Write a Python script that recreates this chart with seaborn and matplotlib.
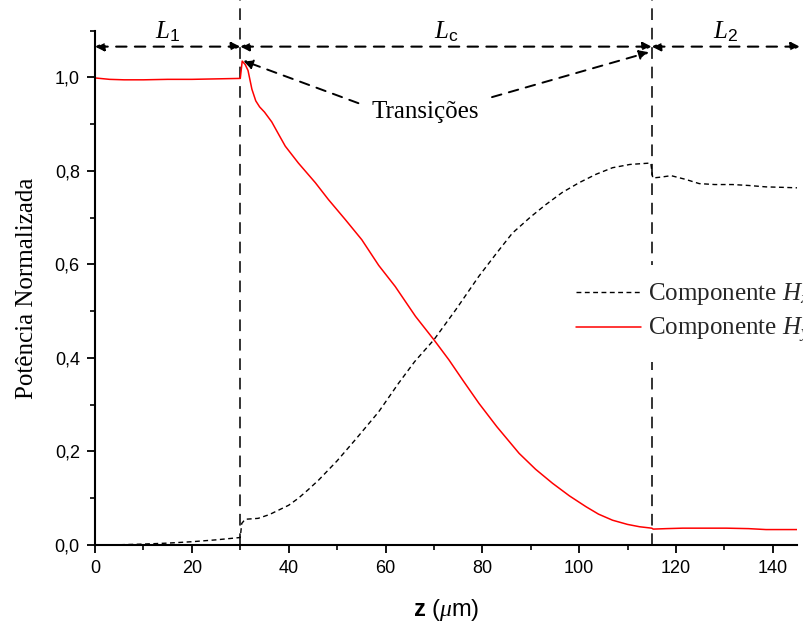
import numpy as np
import pandas as pd
import matplotlib
matplotlib.use("Agg")
import matplotlib.pyplot as plt
from matplotlib.ticker import MultipleLocator
import seaborn as sns

# ---------------- data ----------------
z_hy = [0, 3, 6, 10, 15, 20, 25, 30, 30.4, 31.0, 31.6, 32.4, 33.2, 34.0, 35.0,
        36.5, 38.0, 39.3, 42.0, 45.5, 48.2, 51.7, 55.1, 58.6, 62.0, 66.2, 70.0,
        73.1, 76.0, 79.3, 83.0, 87.6, 91.0, 94.5, 98.0, 101.4, 104.0, 106.9,
        110.0, 112.5, 115.0, 115.3, 118.0, 121.4, 126.0, 130.4, 135.0, 138.6,
        142.0, 145.0]
p_hy = [0.999, 0.996, 0.995, 0.995, 0.996, 0.996, 0.997, 0.998, 1.035, 1.028,
        1.015, 0.975, 0.950, 0.937, 0.926, 0.905, 0.877, 0.853, 0.817, 0.775,
        0.739, 0.696, 0.653, 0.598, 0.553, 0.489, 0.439, 0.396, 0.352, 0.303,
        0.253, 0.196, 0.162, 0.132, 0.105, 0.082, 0.066, 0.053, 0.044, 0.039,
        0.036, 0.034, 0.035, 0.036, 0.036, 0.036, 0.035, 0.033, 0.033, 0.033]

z_hx = [0, 5, 10, 15, 20, 25, 30, 30.3, 31.0, 33.7, 36, 38, 40, 42, 44, 46.2,
        50, 54, 58.6, 62.7, 66, 70, 74.5, 79.3, 83, 86.2, 90, 93.1, 96.5, 100,
        103.5, 106.9, 110.5, 114.8, 115.2, 117, 119, 122, 124.8, 128, 131.7,
        135, 138.6, 142, 145]
p_hx = [0.0, 0.0005, 0.002, 0.004, 0.007, 0.011, 0.016, 0.046, 0.055, 0.057,
        0.065, 0.075, 0.085, 0.100, 0.118, 0.139, 0.180, 0.228, 0.285, 0.346,
        0.392, 0.439, 0.503, 0.575, 0.625, 0.667, 0.702, 0.728, 0.754, 0.775,
        0.793, 0.807, 0.814, 0.817, 0.785, 0.787, 0.790, 0.782, 0.773, 0.771,
        0.771, 0.769, 0.766, 0.765, 0.764]

section_bounds = [0, 30, 115, 145.6]
section_labels = [r"$L_\mathsf{1}$", r"$L_\mathsf{c}$", r"$L_\mathsf{2}$"]
transition_z = [30, 115]

x_ticks = [0, 20, 40, 60, 80, 100, 120, 140]
y_ticks = [0.0, 0.2, 0.4, 0.6, 0.8, 1.0]
y_tick_labels = ["0,0", "0,2", "0,4", "0,6", "0,8", "1,0"]

legend_labels = [r"Componente $H_x$", r"Componente $H_y$"]

# ---------------- style ----------------
sns.set_theme(style="ticks")
plt.rcParams["font.family"] = ["Liberation Sans", "DejaVu Sans"]
plt.rcParams["mathtext.fontset"] = "custom"
plt.rcParams["mathtext.it"] = "Liberation Serif:italic"
plt.rcParams["mathtext.rm"] = "Liberation Serif"
plt.rcParams["mathtext.sf"] = "Liberation Sans"
plt.rcParams["mathtext.bf"] = "Liberation Sans:bold"

serif = ["Liberation Serif", "DejaVu Serif"]

fig = plt.figure(figsize=(8.04, 6.31), dpi=100)
ax = fig.add_axes([0.1182, 0.1363, 0.8731, 0.815])
ax.set_facecolor("white")

df_hx = pd.DataFrame({"z": z_hx, "p": p_hx})
df_hy = pd.DataFrame({"z": z_hy, "p": p_hy})

sns.lineplot(data=df_hx, x="z", y="p", ax=ax, color="black", lw=1.0,
             estimator=None, sort=False, label=legend_labels[0])
ax.lines[-1].set_linestyle((0, (3.5, 2.5)))
sns.lineplot(data=df_hy, x="z", y="p", ax=ax, color="red", lw=1.1,
             estimator=None, sort=False, label=legend_labels[1])

# vertical transition lines (extend to top of figure)
for zt in transition_z:
    ax.axvline(zt, ymin=0, ymax=1.07, clip_on=False, color="#333333",
               lw=1.4, linestyle=(0, (6, 4)), zorder=1)

ax.set_xlim(0, 145)
ax.set_ylim(0, 1.1)
ax.set_xticks(x_ticks)
ax.set_yticks(y_ticks)
ax.set_yticklabels(y_tick_labels)
ax.xaxis.set_minor_locator(MultipleLocator(10))
ax.yaxis.set_minor_locator(MultipleLocator(0.1))
ax.tick_params(axis="both", which="major", direction="out", length=6,
               width=1.3, labelsize=13, color="black", labelcolor="black", pad=5)
ax.tick_params(axis="both", which="minor", direction="out", length=3.5,
               width=1.2, color="black")
for s in ["top", "right"]:
    ax.spines[s].set_visible(False)
for s in ["left", "bottom"]:
    ax.spines[s].set_linewidth(1.5)
    ax.spines[s].set_color("black")

ax.set_xlabel(r"$\mathbf{z}$ ($\mu$m)", fontsize=17, labelpad=14, color="black")
ax.set_ylabel("Potência Normalizada", fontsize=18, family=serif, labelpad=12,
              color="black")

# section double arrows and labels
arrow_y = 1.066
for i in range(3):
    a, b = section_bounds[i], section_bounds[i + 1]
    ax.annotate("", xy=(b, arrow_y), xytext=(a, arrow_y),
                arrowprops=dict(arrowstyle="<|-|>", color="black", lw=1.5,
                                linestyle=(0, (5, 4)), mutation_scale=13,
                                shrinkA=0, shrinkB=0),
                annotation_clip=False)
    ax.text((a + b) / 2, 1.083, section_labels[i], fontsize=18, ha="center",
            va="baseline", color="black")

# Transições annotation
ax.text(68.3, 0.914, "Transições", fontsize=18, family=serif, ha="center",
        va="baseline", color="black")
ax.annotate("", xy=(30.6, 1.036), xytext=(54.4, 0.945),
            arrowprops=dict(arrowstyle="-|>", color="black", lw=1.4,
                            linestyle=(0, (5, 4)), mutation_scale=14,
                            shrinkA=0, shrinkB=0), annotation_clip=False)
ax.annotate("", xy=(114.4, 1.054), xytext=(82.0, 0.958),
            arrowprops=dict(arrowstyle="-|>", color="black", lw=1.4,
                            linestyle=(0, (5, 4)), mutation_scale=14,
                            shrinkA=0, shrinkB=0), annotation_clip=False)

leg = ax.legend(loc="upper left", bbox_to_anchor=(560 / 804, 1 - 265 / 631),
                bbox_transform=fig.transFigure, borderaxespad=0,
                borderpad=0.65, handlelength=2.6, handletextpad=0.28,
                labelspacing=0.36, frameon=True, fancybox=False,
                framealpha=1.0, prop={"family": serif, "size": 18})
leg.get_frame().set_edgecolor("none")
leg.get_frame().set_facecolor("white")

fig.savefig("out.png", dpi=100)
